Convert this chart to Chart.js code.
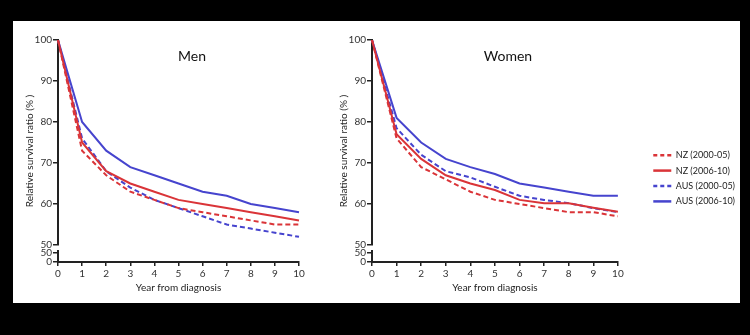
<!DOCTYPE html>
<html>
<head>
<meta charset="utf-8">
<script src="https://cdn.jsdelivr.net/npm/chart.js@4"></script>
<style>
html, body { margin: 0; padding: 0; background: #000; width: 750px; height: 335px; overflow: hidden; }
#frame { position: absolute; left: 13px; top: 21px; width: 727px; height: 282px; background: #fff; }
.box { position: absolute; top: 0; height: 282px; }
#menBox { left: 0; width: 317px; }
#womenBox { left: 314px; width: 418px; }
.ttl { position: absolute; top: 26px; font: 14px Lato, sans-serif; color: #111; transform: translateX(-50%); white-space: nowrap; }
</style>
</head>
<body>
<div id="frame">
  <div class="box" id="menBox"><canvas id="menChart"></canvas></div>
  <div class="box" id="womenBox"><canvas id="womenChart"></canvas></div>
  <div class="ttl" style="left:179px">Men</div>
  <div class="ttl" style="left:495px">Women</div>
</div>
<script>
// data
var years = ['0', '1', '2', '3', '4', '5', '6', '7', '8', '9', '10'];
var yTicksTop = [50, 60, 70, 80, 90, 100];
var yTicksLow = [0, 50];
var seriesLabels = ['NZ (2000-05)', 'NZ (2006-10)', 'AUS (2000-05)', 'AUS (2006-10)'];

var menNz0005 = [100, 73, 67, 63, 61, 59, 58, 57, 56, 55, 55];
var menNz0610 = [100, 75, 68, 65, 63, 61, 60, 59, 58, 57, 56];
var menAus0005 = [100, 76, 68, 64, 61, 59, 57, 55, 54, 53, 52];
var menAus0610 = [100, 80, 73, 69, 67, 65, 63, 62, 60, 59, 58];

var womenNz0005 = [100, 76, 69, 66, 63, 61, 60, 59, 58, 58, 57];
var womenNz0610 = [100, 77, 71, 67, 65, 63.4, 61, 60.2, 60.2, 59.1, 58.1];
var womenAus0005 = [100, 78.5, 72, 68, 66.5, 64.2, 62, 61, 60.2, 59, 58];
var womenAus0610 = [100, 81, 75, 71, 69, 67.3, 65, 64, 63, 62, 62];

var RED = 'rgb(218, 52, 56)';
var BLUE = 'rgb(70, 68, 206)';
var INK = '#222';
var FONT = 'Lato, sans-serif';

function makeSets(nz0005, nz0610, aus0005, aus0610) {
    var vals = [nz0005, nz0610, aus0005, aus0610];
    var cols = [RED, RED, BLUE, BLUE];
    var dashed = [true, false, true, false];
    return vals.map(function (v, i) {
        return {
            label: seriesLabels[i],
            data: v,
            xAxisID: 'x',
            yAxisID: 'y',
            borderColor: cols[i],
            backgroundColor: cols[i],
            borderWidth: 2,
            borderDash: dashed[i] ? [5, 3] : [],
            pointRadius: 0,
            tension: 0,
            fill: false
        };
    });
}

// legend samples: take dash + width from the line, not the point
function legendLabels(chart) {
    var items = Chart.defaults.plugins.legend.labels.generateLabels(chart);
    items.forEach(function (it) {
        var ds = chart.data.datasets[it.datasetIndex];
        it.lineDash = ds.borderDash.length ? [4, 3] : [];
        it.lineWidth = 2.5;
        it.strokeStyle = ds.borderColor;
        it.pointStyle = 'line';
    });
    return items;
}

function fixW(w) { return function (s) { s.width = w; }; }

var noDraw = { ticks: { display: false }, grid: { display: false }, border: { display: false } };

function makeChart(id, sets, withLegend) {
    var scales = {
        x: {
            type: 'category',
            labels: years,
            offset: false,
            border: { color: INK, width: 2 },
            grid: { drawOnChartArea: false, drawTicks: true, tickLength: 4, color: INK, lineWidth: 1.5 },
            ticks: { color: '#333', font: { family: FONT, size: 10 }, padding: 2, maxRotation: 0, autoSkip: false },
            title: { display: true, text: 'Year from diagnosis', color: INK, font: { family: FONT, size: 10 }, padding: { top: 0, bottom: 9 } },
            afterFit: function (s) { s.height = 41; }
        },
        y: {
            type: 'linear', position: 'left', stack: 'v', stackWeight: 205, weight: 3,
            min: 50, max: 100,
            afterBuildTicks: function (s) { s.ticks = yTicksTop.map(function (v) { return { value: v }; }); },
            border: { color: INK, width: 2 },
            grid: { drawOnChartArea: false, tickLength: 5, color: INK, lineWidth: 1.5 },
            ticks: { color: '#333', font: { family: FONT, size: 10 }, padding: 1 },
            afterFit: fixW(25)
        },
        // outer box only carrying the axis title, spans the whole broken axis
        yTitle: Object.assign({
            type: 'linear', position: 'left', weight: 10, min: 0, max: 1,
            title: { display: true, text: 'Relative survival ratio (% )', color: INK, font: { family: FONT, size: 10 }, padding: { top: 11, bottom: 0 } },
            afterFit: fixW(20)
        }, noDraw),
        gap: Object.assign({
            type: 'linear', position: 'left', stack: 'v', stackWeight: 6, weight: 2, min: 0, max: 1,
            afterFit: fixW(25)
        }, noDraw),
        yLow: {
            type: 'linear', position: 'left', stack: 'v', stackWeight: 11, weight: 1,
            min: 0, max: 60,
            afterBuildTicks: function (s) { s.ticks = yTicksLow.map(function (v) { return { value: v }; }); },
            border: { color: INK, width: 2 },
            grid: { drawOnChartArea: false, tickLength: 5, color: INK, lineWidth: 1.5 },
            ticks: { color: '#333', font: { family: FONT, size: 10 }, padding: 1, autoSkip: false },
            afterFit: fixW(25)
        }
    };
    if (withLegend) {
        // spacer between plot and legend
        scales.pad = Object.assign({ type: 'linear', position: 'right', min: 0, max: 1, afterFit: fixW(29) }, noDraw);
    }
    return new Chart(document.getElementById(id), {
        type: 'line',
        data: { labels: years, datasets: sets },
        options: {
            responsive: true,
            maintainAspectRatio: false,
            animation: false,
            layout: { padding: { top: 19, left: 0, right: withLegend ? 0 : 31, bottom: 0 } },
            plugins: {
                legend: {
                    display: withLegend,
                    position: 'right',
                    align: 'center',
                    maxWidth: 140,
                    title: { display: true, text: '', font: { size: 10 }, padding: { top: 0, bottom: 1.6 } },
                    labels: {
                        usePointStyle: true,
                        pointStyleWidth: 18,
                        padding: 6.4,
                        color: INK,
                        font: { family: FONT, size: 9 },
                        generateLabels: legendLabels
                    }
                },
                tooltip: { enabled: false }
            },
            scales: scales
        }
    });
}

makeChart('menChart', makeSets(menNz0005, menNz0610, menAus0005, menAus0610), false);
makeChart('womenChart', makeSets(womenNz0005, womenNz0610, womenAus0005, womenAus0610), true);
</script>
</body>
</html>
